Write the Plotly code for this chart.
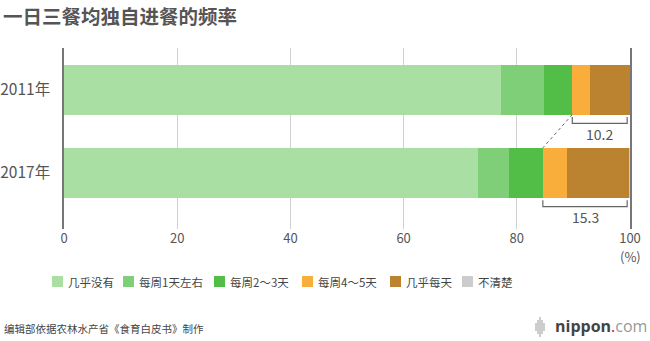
import plotly.graph_objects as go

# ---- data ----
years = ["2011年", "2017年"]
series_names = ["几乎没有", "每周1天左右", "每周2～3天", "每周4～5天", "几乎每天", "不清楚"]
v_never = [77.2, 73.1]
v_1day = [7.6, 5.5]
v_2_3 = [5.0, 6.0]
v_4_5 = [3.1, 4.2]
v_daily = [7.1, 11.1]
v_unknown = [0.0, 0.1]
bracket_labels = ["10.2", "15.3"]
x_ticks = [0, 20, 40, 60, 80, 100]

colors = ["#a9dfa3", "#7ecf78", "#52be48", "#f9ae3c", "#bb832f", "#cccccc"]
values = [v_never, v_1day, v_2_3, v_4_5, v_daily, v_unknown]

FONT = "Noto Sans CJK SC, Noto Sans, sans-serif"
W, H = 650, 341
L, R, T, B = 64, 630, 48, 229

def px(x):
    return (x - L) / (R - L)

def py(y):
    return (B - y) / (B - T)

fig = go.Figure()
for name, vals, col in zip(series_names, values, colors):
    fig.add_trace(go.Bar(
        y=years, x=vals, name=name, orientation="h",
        marker=dict(color=col, line=dict(width=0)),
        width=0.6, showlegend=False, hoverinfo="x+name",
    ))

shapes = []
annotations = []

# brackets for 4-5 days + daily
for i, yr in enumerate(years):
    start = v_never[i] + v_1day[i] + v_2_3[i]
    end = 99.5
    y0, y1 = i + 0.33, i + 0.405
    shapes.append(dict(
        type="path", xref="x", yref="y",
        path=f"M {start},{y0} L {start},{y1} L {end},{y1} L {end},{y0}",
        line=dict(color="#666666", width=1.2),
    ))
    annotations.append(dict(
        x=(start + end) / 2, y=i + 0.53, xref="x", yref="y",
        text=bracket_labels[i], showarrow=False,
        font=dict(family=FONT, size=14, color="#555555"),
    ))

# dotted connector
s0 = v_never[0] + v_1day[0] + v_2_3[0]
s1 = v_never[1] + v_1day[1] + v_2_3[1]
shapes.append(dict(
    type="line", xref="x", yref="y", x0=s0, y0=0.3, x1=s1, y1=0.7,
    line=dict(color="#666666", width=1, dash="dot"),
))

# (%) label
annotations.append(dict(
    x=px(630), y=py(256), xref="paper", yref="paper", text="(%)", showarrow=False,
    xanchor="center", yanchor="middle",
    font=dict(family=FONT, size=13, color="#555555"),
))

# manual legend
sq_x = [52, 123, 214, 302, 390, 462]
for name, col, x in zip(series_names, colors, sq_x):
    shapes.append(dict(
        type="rect", xref="paper", yref="paper",
        x0=px(x), x1=px(x + 11), y0=py(287), y1=py(276),
        fillcolor=col, line=dict(width=0),
    ))
    annotations.append(dict(
        x=px(x + 14), y=py(281.5), xref="paper", yref="paper",
        text=name, showarrow=False, xanchor="left", yanchor="middle",
        font=dict(family=FONT, size=11.5, color="#444444"),
    ))

# footer source
annotations.append(dict(
    x=px(2), y=py(328), xref="paper", yref="paper",
    text="编辑部依据农林水产省《食育白皮书》制作", showarrow=False,
    xanchor="left", yanchor="middle",
    font=dict(family=FONT, size=10.5, color="#444444"),
))

# logo
annotations.append(dict(
    x=px(649), y=py(326), xref="paper", yref="paper",
    text="<b>nippon</b><span style='color:#e60012'>.</span><span style='color:#999999'>com</span>",
    showarrow=False, xanchor="right", yanchor="middle",
    font=dict(family="Open Sans", size=16, color="#444444"),
))
for k, (xx, hh) in enumerate([(536, 4), (538, 7), (540, 10), (542, 7), (544, 4)]):
    shapes.append(dict(
        type="line", xref="paper", yref="paper",
        x0=px(xx), x1=px(xx), y0=py(327 - hh), y1=py(327 + hh),
        line=dict(color="#9a9a9a", width=1),
    ))

fig.update_layout(
    barmode="stack",
    width=W, height=H,
    margin=dict(l=L, r=W - R, t=T, b=H - B, autoexpand=False),
    paper_bgcolor="white", plot_bgcolor="white",
    title=dict(
        text="<b>一日三餐均独自进餐的频率</b>",
        x=3 / W, xanchor="left", xref="container",
        y=1 - 17 / H, yanchor="middle", yref="container",
        font=dict(family=FONT, size=19.5, color="#555555"),
    ),
    xaxis=dict(
        range=[0, 100], tickvals=x_ticks, ticktext=[str(t) for t in x_ticks],
        showgrid=True, gridcolor="#d0d0d0", gridwidth=1,
        zeroline=False, showline=False, ticks="", automargin=False,
        tickfont=dict(family=FONT, size=13, color="#555555"),
        fixedrange=True,
    ),
    yaxis=dict(
        categoryorder="array", categoryarray=years, autorange="reversed",
        showline=True, linecolor="#777777", linewidth=1.5, mirror=True,
        showgrid=False, zeroline=False, ticks="", ticklabelstandoff=9,
        automargin=False,
        tickfont=dict(family=FONT, size=15.5, color="#555555"),
        fixedrange=True,
    ),
    shapes=shapes,
    annotations=annotations,
    showlegend=False,
)

fig.write_html("out.html")
